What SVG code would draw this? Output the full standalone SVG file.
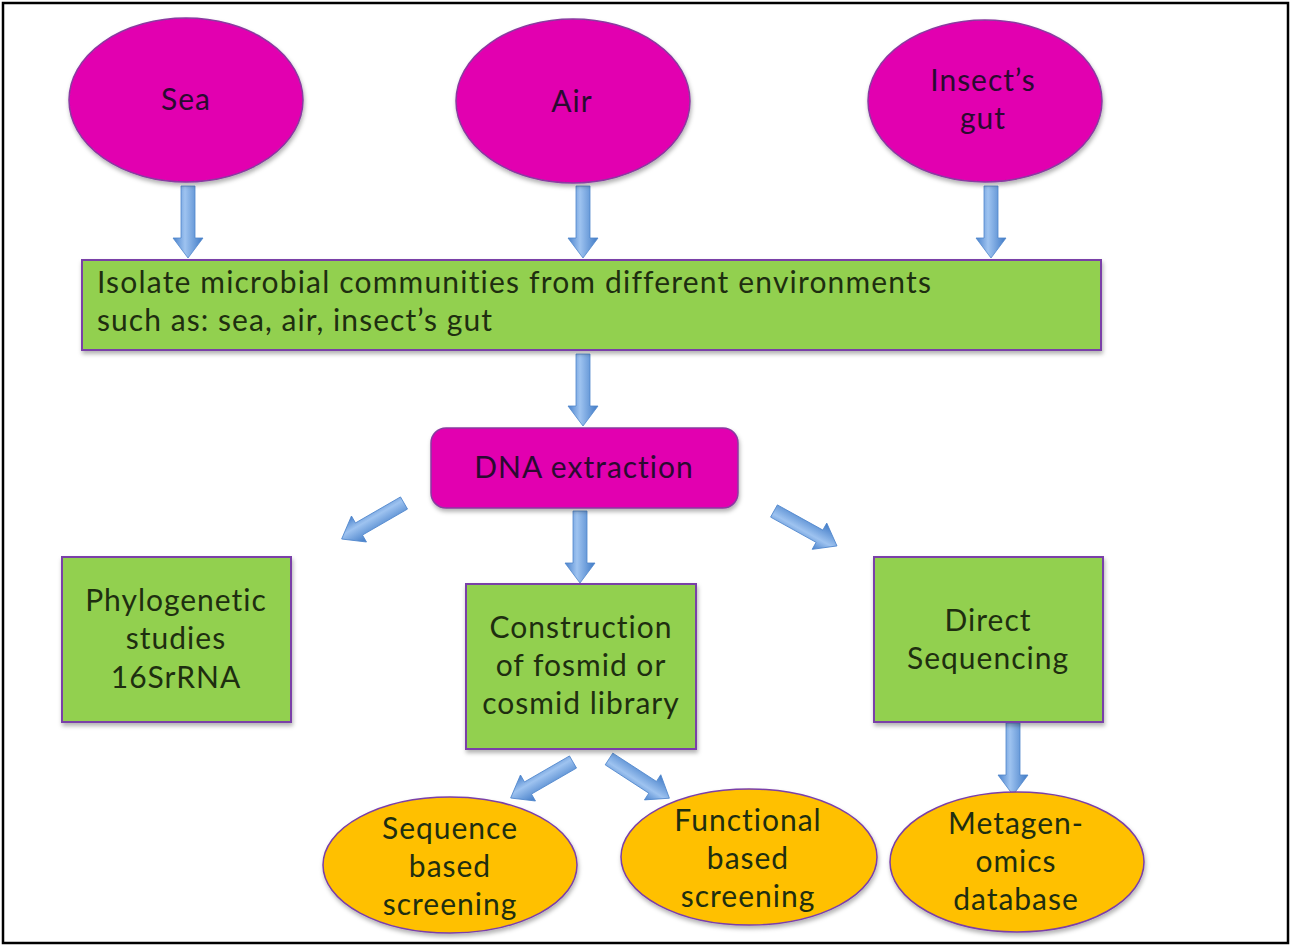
<svg xmlns="http://www.w3.org/2000/svg" width="1291" height="946" viewBox="0 0 1291 946">
<defs>
<linearGradient id="ag" x1="0" y1="0" x2="1" y2="0">
<stop offset="0" stop-color="#4a82cc"/>
<stop offset="0.4" stop-color="#9ec3f0"/>
<stop offset="1" stop-color="#3f7ac6"/>
</linearGradient>
<filter id="sh" x="-10%" y="-10%" width="120%" height="130%">
<feDropShadow dx="1" dy="3" stdDeviation="2" flood-color="#000" flood-opacity="0.3"/>
</filter>
<path id="arr" d="M-7,0 H7 V52 H15 L0,72 L-15,52 H-7 Z"/>
</defs>
<style>
.mag{fill:#e200b0;stroke:#8a3aa0;stroke-width:1.5;filter:url(#sh)}
.grn{fill:#92d050;stroke:#7a3fa8;stroke-width:2;filter:url(#sh)}
.org{fill:#ffc000;stroke:#7a3fa8;stroke-width:1.5;filter:url(#sh)}
.a{fill:url(#ag);stroke:#4f86cc;stroke-width:0.8}
text{font-family:"Lato","Open Sans","Liberation Sans",sans-serif;font-size:30px;letter-spacing:1px;font-variant-ligatures:none}
.tm{fill:#2a0a30;text-anchor:middle}
.tg{fill:#1e2e10;text-anchor:middle}
.tl{fill:#1e2e10}
</style>
<rect x="0" y="0" width="1291" height="946" fill="#fff"/>
<rect x="3" y="3" width="1285" height="940" fill="none" stroke="#000" stroke-width="2.5"/>

<g id="connectors">
<use href="#arr" class="a" transform="translate(188,186)"/>
<use href="#arr" class="a" transform="translate(583,186)"/>
<use href="#arr" class="a" transform="translate(991,186)"/>
<use href="#arr" class="a" transform="translate(583,354)"/>
<use href="#arr" class="a" transform="translate(580,511)"/>
<use href="#arr" class="a" transform="translate(404,503) rotate(60)"/>
<use href="#arr" class="a" transform="translate(774,511) rotate(-61)"/>
<use href="#arr" class="a" transform="translate(1013,723)"/>
<use href="#arr" class="a" transform="translate(573,762) rotate(60)"/>
<use href="#arr" class="a" transform="translate(609,759) rotate(-57)"/>
</g>

<g id="sea">
<ellipse class="mag" cx="186" cy="100" rx="117" ry="82"/>
<text class="tm" x="186" y="110">Sea</text>
</g>
<g id="air">
<ellipse class="mag" cx="573" cy="101" rx="117" ry="82"/>
<text class="tm" x="572" y="112">Air</text>
</g>
<g id="insect">
<ellipse class="mag" cx="985" cy="101" rx="117" ry="81"/>
<text class="tm" x="983" y="91">Insect’s</text>
<text class="tm" x="983" y="129">gut</text>
</g>
<g id="isolate">
<rect class="grn" x="82" y="260" width="1019" height="90"/>
<text class="tl" x="97" y="293" textLength="835" lengthAdjust="spacing">Isolate microbial communities from different environments</text>
<text class="tl" x="97" y="331" textLength="396" lengthAdjust="spacing">such as: sea, air, insect’s gut</text>
</g>
<g id="dna">
<rect class="mag" x="431" y="428" width="307" height="80" rx="15"/>
<text class="tm" x="584" y="478">DNA extraction</text>
</g>
<g id="phylo">
<rect class="grn" x="62" y="557" width="229" height="165"/>
<text class="tg" x="176" y="611">Phylogenetic</text>
<text class="tg" x="176" y="649">studies</text>
<text class="tg" x="176" y="688">16SrRNA</text>
</g>
<g id="construction">
<rect class="grn" x="466" y="584" width="230" height="165"/>
<text class="tg" x="581" y="638">Construction</text>
<text class="tg" x="581" y="676">of fosmid or</text>
<text class="tg" x="581" y="714">cosmid library</text>
</g>
<g id="direct">
<rect class="grn" x="874" y="557" width="229" height="165"/>
<text class="tg" x="988" y="631">Direct</text>
<text class="tg" x="988" y="669">Sequencing</text>
</g>
<g id="sequence">
<ellipse class="org" cx="450" cy="865" rx="127" ry="68"/>
<text class="tg" x="450" y="839">Sequence</text>
<text class="tg" x="450" y="877">based</text>
<text class="tg" x="450" y="915">screening</text>
</g>
<g id="functional">
<ellipse class="org" cx="749" cy="857" rx="128" ry="68"/>
<text class="tg" x="748" y="831">Functional</text>
<text class="tg" x="748" y="869">based</text>
<text class="tg" x="748" y="907">screening</text>
</g>
<g id="metagenomics">
<ellipse class="org" cx="1017" cy="862" rx="127" ry="70"/>
<text class="tg" x="1016" y="834">Metagen-</text>
<text class="tg" x="1016" y="872">omics</text>
<text class="tg" x="1016" y="910">database</text>
</g>
</svg>
